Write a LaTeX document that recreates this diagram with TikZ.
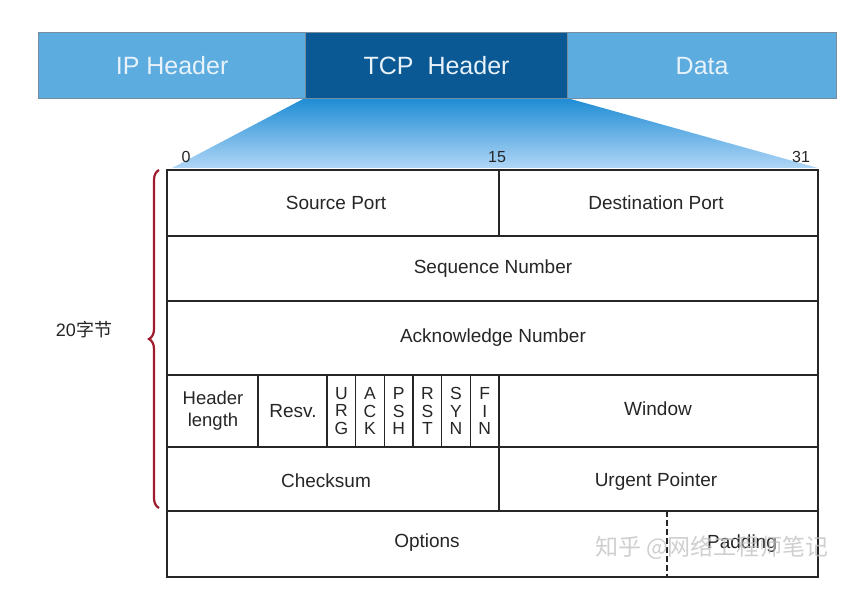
\documentclass[tikz,border=0pt]{standalone}
\usepackage{fontspec}
\setmainfont{Liberation Sans}
\newfontfamily\cjk{Noto Sans CJK SC}
\usetikzlibrary{decorations.pathreplacing}
\definecolor{barlight}{RGB}{92,172,224}
\definecolor{bardark}{RGB}{10,88,148}
\definecolor{barborder}{RGB}{120,140,160}
\definecolor{bartext}{RGB}{232,242,250}
\definecolor{gradtop}{RGB}{30,140,212}
\definecolor{gradbot}{RGB}{176,214,246}
\definecolor{bracered}{RGB}{160,28,44}
\tikzset{
  barbox/.style={draw=barborder, line width=1.2pt, fill=barlight, text=bartext,
    font=\fontsize{25}{28}\selectfont, inner sep=0pt},
  cell/.style={font=\fontsize{19}{21}\selectfont, inner sep=0pt, text=black!85},
  flag/.style={font=\fontsize{17.5}{17.5}\selectfont, inner sep=0pt, align=center, text=black!85},
  bitlbl/.style={font=\fontsize{16}{18}\selectfont, inner sep=0pt, text=black!85},
  grid/.style={line width=1.1pt, black!85},
}
\begin{document}
\begin{tikzpicture}[x=1pt,y=-1pt]
\useasboundingbox[fill=white] (0,0) rectangle (864,593);
% gradient zoom trapezoid
\shade[top color=gradtop, bottom color=gradbot] (305,98) -- (567,98) -- (818,168) -- (172,168) -- cycle;
% top bar
\node[barbox, minimum width=267pt, minimum height=66pt, anchor=north west] (ip) at (38,32) {IP Header};
\node[barbox, fill=bardark, minimum width=262pt, minimum height=66pt, anchor=north west] (tcp) at (305,32) {TCP\ \ Header};
\node[barbox, minimum width=269pt, minimum height=66pt, anchor=north west] (data) at (567,32) {Data};
% table grid
\draw[grid] (167,170) rectangle (818,577);
\foreach \yy in {236,301,375,447,511} \draw[grid] (167,\yy) -- (818,\yy);
\draw[grid] (499,170) -- (499,236);
\draw[grid] (499,375) -- (499,511);
\draw[grid] (258,375) -- (258,447);
\foreach \i in {0,...,5} \draw[grid] ({327+28.67*\i},375) -- ({327+28.67*\i},447);
\draw[grid, dash pattern=on 6pt off 3pt] (667,511) -- (667,577);
% bit labels
\node[bitlbl] (b0) at (186,157) {0};
\node[bitlbl] (b15) at (497,157) {15};
\node[bitlbl] (b31) at (801,157) {31};
% cells
\node[cell] (src) at (336,203) {Source Port};
\node[cell] (dst) at (656,203) {Destination Port};
\node[cell] (seq) at (493,269) {Sequence Number};
\node[cell] (ackn) at (493,338) {Acknowledge Number};
\node[cell, align=center, font=\fontsize{18.5}{22}\selectfont] (hlen) at (213,411) {Header\\length};
\node[cell] (resv) at (293,411) {Resv.};
\node[flag] (furg) at ({327+28.67*0.5},411) {U\\R\\G};
\node[flag] (fack) at ({327+28.67*1.5},411) {A\\C\\K};
\node[flag] (fpsh) at ({327+28.67*2.5},411) {P\\S\\H};
\node[flag] (frst) at ({327+28.67*3.5},411) {R\\S\\T};
\node[flag] (fsyn) at ({327+28.67*4.5},411) {S\\Y\\N};
\node[flag] (ffin) at ({327+28.67*5.5},411) {F\\I\\N};
\node[cell] (win) at (658,409) {Window};
\node[cell] (chk) at (326,481) {Checksum};
\node[cell] (urgp) at (656,482) {Urgent Pointer};
\node[cell] (opt) at (427,543) {Options};
\node[cell] (pad) at (742,544) {Padding};
% brace
\draw[bracered, line width=2.2pt, decorate, decoration={brace, amplitude=10pt}] (159,508) -- (159,170);
\node[font=\fontsize{18}{20}\selectfont, inner sep=0pt, text=black!85] (bytes) at (84,330) {20\cjk 字节};
% watermark
\node[font=\cjk\fontsize{23}{26}\selectfont, text=gray!50, opacity=0.75, inner sep=0pt] (wm) at (712,548) {知乎 @网络工程师笔记};
\end{tikzpicture}
\end{document}
